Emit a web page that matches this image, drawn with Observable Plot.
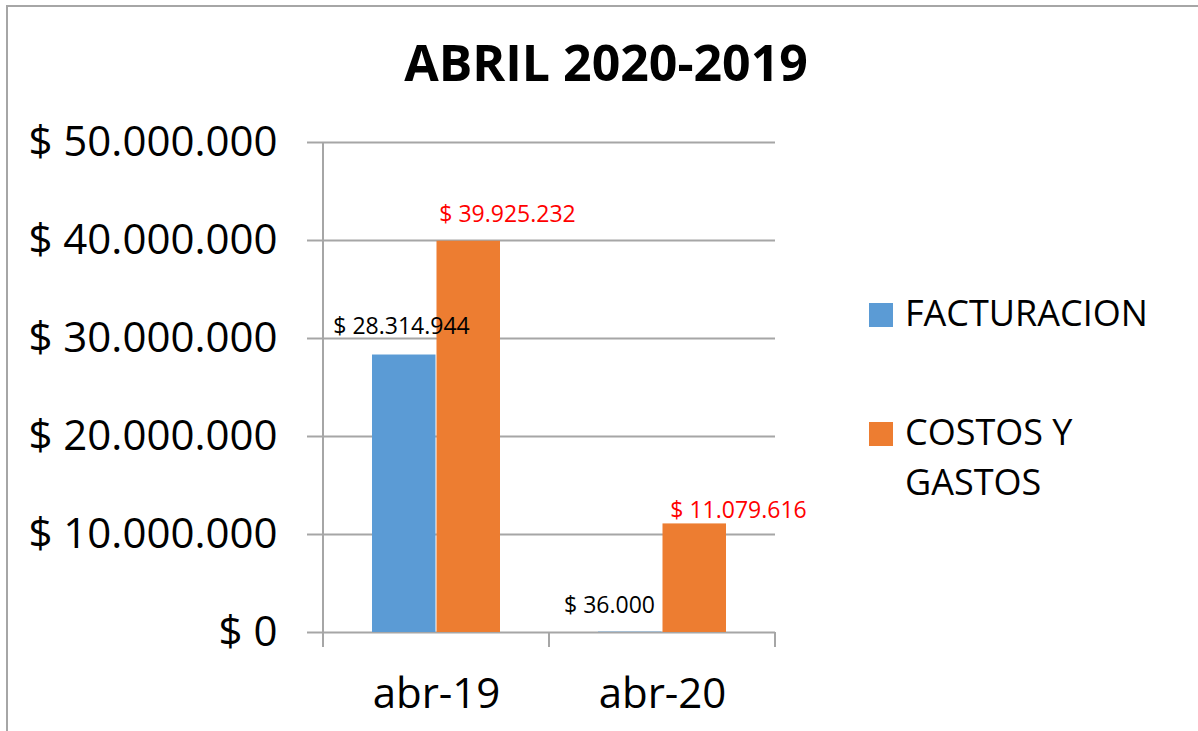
<!DOCTYPE html>
<html>
<head>
<meta charset="utf-8">
<script src="https://cdn.jsdelivr.net/npm/d3@7"></script>
<script src="https://cdn.jsdelivr.net/npm/@observablehq/plot@0.6"></script>
<style>
  html, body { margin: 0; padding: 0; background: #fff; overflow: hidden; }
  body { width: 1198px; height: 731px; position: relative; font-family: "Open Sans", sans-serif; }
  #frameBorder { position: absolute; left: 6px; top: 5px; width: 1400px; height: 900px;
    border-top: 2px solid #a6a6a6; border-left: 2px solid #a6a6a6; pointer-events: none; }
  #titleBox { position: relative; height: 110px; width: 1198px; }
  #title { position: absolute; left: 0; width: 1212px; top: 37px; text-align: center;
    font-size: 50px; line-height: 50px; font-weight: 700; color: #000; }
  #chart { position: relative; }
  .leg { position: absolute; left: 869px; display: flex; align-items: flex-start; }
  .sw { width: 24px; height: 24px; }
  .lt { position: absolute; left: 36px; font-size: 36px; line-height: 50px; color: #000; white-space: nowrap; }
</style>
</head>
<body>
<div id="titleBox"><div id="title"></div></div>
<div id="chart"></div>
<div id="legend"></div>
<div id="frameBorder"></div>
<script>
// ---- data ----
const title = "ABRIL 2020-2019";
const categories = ["abr-19", "abr-20"];
const seriesNames = ["FACTURACION", "COSTOS Y GASTOS"];
const legendLabels = [["FACTURACION"], ["COSTOS Y", "GASTOS"]];
const facturacion = [28314944, 36000];
const costosGastos = [39925232, 11079616];
const yTicks = [0, 10000000, 20000000, 30000000, 40000000, 50000000];

// ---- styles ----
const COLORS = {"FACTURACION": "#5b9bd5", "COSTOS Y GASTOS": "#ed7d31"};
const LABEL_COLORS = {"FACTURACION": "#000000", "COSTOS Y GASTOS": "#ff0000"};
const GRID = "#a6a6a6";
const BAR_INSETS = {"FACTURACION": [49, 113.5], "COSTOS Y GASTOS": [113.5, 49]};
const LABEL_NUDGE = {
  "abr-19|FACTURACION": [-35, -21],
  "abr-19|COSTOS Y GASTOS": [71, -19],
  "abr-20|FACTURACION": [-53, -19],
  "abr-20|COSTOS Y GASTOS": [76, -6]
};

const money = (v) => "$ " + d3.format(",")(v).replace(/,/g, ".");

const rows = [];
categories.forEach((c, i) => {
  rows.push({cat: c, series: seriesNames[0], value: facturacion[i]});
  rows.push({cat: c, series: seriesNames[1], value: costosGastos[i]});
});

document.getElementById("title").textContent = title;

// custom mark: y-axis line and category boundary stubs
function axisLines(index, scales, values, dims) {
  const {x, y} = scales;
  const n = categories.length;
  const bw = x.bandwidth ? x.bandwidth() : (dims.width - dims.marginLeft - dims.marginRight) / n;
  const edges = categories.map((c) => x(c)).concat([x(categories[n - 1]) + bw]);
  const y0 = y(0);
  const yTop = y(d3.max(yTicks));
  const g = d3.create("svg:g").attr("stroke", GRID).attr("stroke-width", 2).attr("fill", "none");
  g.append("line").attr("x1", edges[0]).attr("x2", edges[0]).attr("y1", yTop).attr("y2", y0 + 15);
  edges.slice(1).forEach((e) => {
    g.append("line").attr("x1", e).attr("x2", e).attr("y1", y0).attr("y2", y0 + 15);
  });
  return g.node();
}

const marks = [
  Plot.gridY(yTicks, {stroke: GRID, strokeOpacity: 1, strokeWidth: 2}),
  Plot.axisY(yTicks, {tickSize: 15, tickPadding: 30, fontSize: 42, stroke: GRID, strokeWidth: 2,
    strokeOpacity: 1, tickFormat: money, fill: "#000"}),
  Plot.axisX({tickSize: 0, tickPadding: 46, fontSize: 42, fill: "#000"})
];
seriesNames.forEach((s) => {
  const d = rows.filter((r) => r.series === s);
  marks.push(Plot.barY(d, {x: "cat", y: "value", fill: COLORS[s],
    insetLeft: BAR_INSETS[s][0], insetRight: BAR_INSETS[s][1]}));
});
marks.push(axisLines);
rows.forEach((r) => {
  const [dx, dy] = LABEL_NUDGE[r.cat + "|" + r.series];
  marks.push(Plot.text([r], {x: "cat", y: "value", text: (d) => money(d.value),
    fill: LABEL_COLORS[r.series], fontSize: 23, lineAnchor: "bottom", dx, dy}));
});

const plot = Plot.plot({
  width: 1198,
  height: 621,
  marginLeft: 322,
  marginRight: 423,
  marginTop: 32,
  marginBottom: 99,
  style: {fontFamily: "Open Sans", background: "transparent", overflow: "visible"},
  x: {domain: categories, padding: 0, label: null},
  y: {domain: [0, 50000000], label: null},
  marks
});
document.getElementById("chart").appendChild(plot);

// legend
const legend = document.getElementById("legend");
const legTops = [303, 422];
seriesNames.forEach((s, i) => {
  const item = document.createElement("div");
  item.className = "leg";
  item.style.top = legTops[i] + "px";
  const sw = document.createElement("div");
  sw.className = "sw";
  sw.style.background = COLORS[s];
  const lt = document.createElement("div");
  lt.className = "lt";
  lt.style.top = "-15px";
  lt.innerHTML = legendLabels[i].join("<br>");
  item.appendChild(sw);
  item.appendChild(lt);
  legend.appendChild(item);
});
</script>
</body>
</html>
